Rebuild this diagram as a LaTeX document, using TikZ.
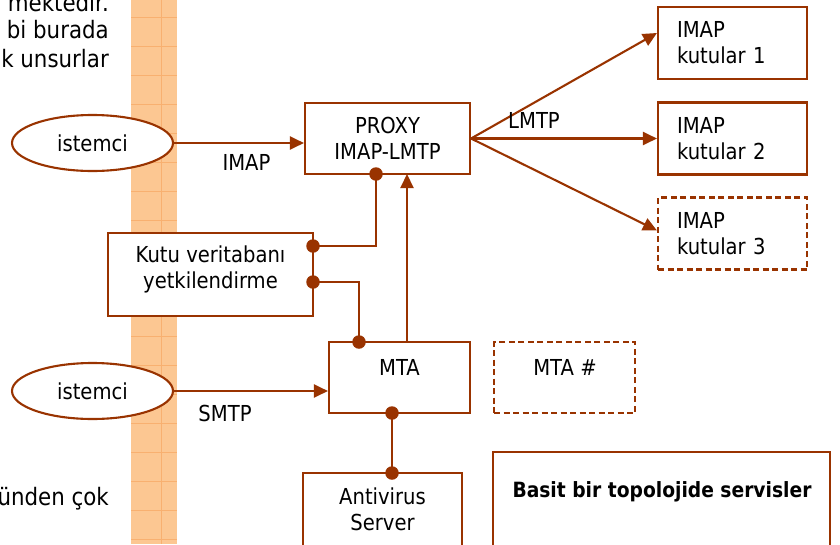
\documentclass[tikz,border=0pt]{standalone}
\usepackage{fontspec}
\setmainfont{DejaVu Sans}[FakeStretch=0.89]
\usetikzlibrary{shapes.geometric,arrows.meta}
\definecolor{rust}{HTML}{993300}
\definecolor{peach}{HTML}{FCC792}
\definecolor{peachline}{HTML}{F8B070}
\begin{document}
\begin{tikzpicture}[x=1pt,y=-1pt,
  every node/.style={font=\fontsize{22}{26}\selectfont, text=black},
  box/.style={draw=rust, line width=2.1pt, fill=white, rectangle, inner sep=0pt},
  dashbox/.style={box, dash pattern=on 6pt off 3.5pt},
  client/.style={ellipse, draw=rust, line width=2.1pt, fill=white,
                 minimum width=161pt, minimum height=56pt, inner sep=0pt},
  link/.style={draw=rust, line width=2.1pt},
  arr/.style={link, -{Triangle[length=14pt,width=13pt]}},
  joint/.style={circle, fill=rust, inner sep=0pt, minimum size=13.5pt},
  lbl/.style={inner sep=0pt},
  side/.style={inner sep=0pt, anchor=base east, font=\fontsize{24}{28}\selectfont},
  store/.style={box, minimum width=149pt, minimum height=72pt,
                inner xsep=19pt, text width=111pt, align=left}
]
\useasboundingbox (0,0) rectangle (840,544);
\clip (0,0) rectangle (840,544);

% firewall strip
\fill[peach] (131,0) rectangle (177,544);
\draw[peachline, line width=0.8pt] (161,0) -- (161,544);
\foreach \yy in {17,46,...,544}
  \draw[peachline, line width=0.8pt] (131,\yy) -- (177,\yy);

% running text at the left margin
\node[side] (txta) at (109,11) {mektedir.};
\node[side] (txtb) at (109,38) {bi burada};
\node[side] (txtc) at (109,67) {k unsurlar};
\node[side] (txtd) at (109,505) {ünden çok};

% clients
\node[client] (ist1) at (92.5,143) {istemci};
\node[client] (ist2) at (92.5,391) {istemci};

% servers
\node[box, minimum width=165pt, minimum height=71pt, align=center]
  (proxy) at (387.5,138.5) {PROXY\\IMAP-LMTP};
\node[store] (imap1) at (732.5,43) {IMAP\\kutular 1};
\node[store] (imap2) at (732.5,138.5) {IMAP\\kutular 2};
\node[store, dashbox] (imap3) at (732.5,233.5) {IMAP\\kutular 3};
\node[box, minimum width=205pt, minimum height=83pt] (kutu) at (210.5,274.5) {};
\node[lbl, align=center] (kututxt) at (210.5,269) {Kutu veritabanı\\yetkilendirme};
\node[box, minimum width=141pt, minimum height=71pt] (mta) at (399.5,377.5) {};
\node[lbl] (mtatxt) at (399.5,367) {MTA};
\node[dashbox, minimum width=141pt, minimum height=71pt] (mtan) at (564.5,377.5) {};
\node[lbl] (mtantxt) at (565,367) {MTA \#};
\node[box, minimum width=159pt, minimum height=100pt] (av) at (382.5,523) {};
\node[lbl, align=center] (avtxt) at (382.5,509) {Antivirus\\Server};
\node[box, minimum width=337pt, minimum height=110pt] (note) at (661.5,507) {};
\node[lbl, font=\fontsize{21}{25}\selectfont\bfseries] (notetxt) at (662,492)
  {Basit bir topolojide servisler};

% client protocols
\draw[arr] (ist1.east) -- (ist1.east -| proxy.west);
\node[lbl] (imaplbl) at (246.5,162) {IMAP};
\draw[arr] (ist2.east) -- (ist2.east -| mta.west);
\node[lbl] (smtplbl) at (225,413) {SMTP};

% LMTP delivery to the mailbox stores
\draw[arr] (proxy.east) -- ([yshift=10pt]imap1.west);
\draw[arr] (proxy.east) -- (imap2.west);
\draw[arr] (proxy.east) -- ([yshift=3pt]imap3.west);
\node[lbl] (lmtplbl) at (534,120.5) {LMTP};

% lookups against the mailbox database
\coordinate (pj) at (376,174);
\coordinate (kj1) at (313,246);
\coordinate (kj2) at (313,282);
\coordinate (mj) at (359,342);
\coordinate (mup) at (407,342);
\coordinate (pin) at (407,174);
\coordinate (mlow) at (392,413);
\coordinate (avj) at (392,473);
\draw[link] (pj) |- (kj1);
\draw[link] (kj2) -| (mj);
\draw[arr] (mup) -- (pin);
\draw[link] (mlow) -- (avj);
\foreach \p in {pj,kj1,kj2,mj,mlow,avj}
  \node[joint] at (\p) {};
\end{tikzpicture}
\end{document}
